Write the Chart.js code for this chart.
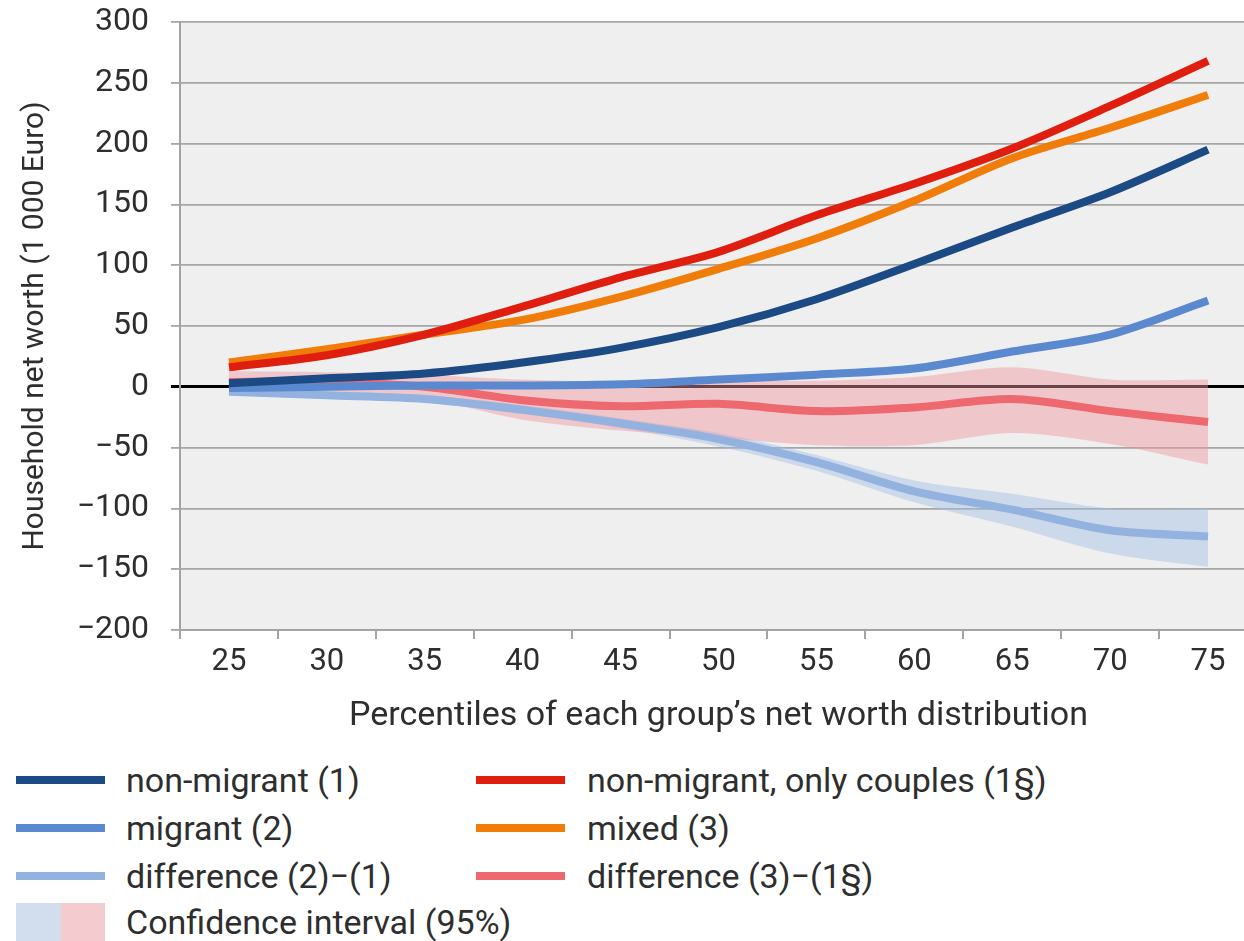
<!DOCTYPE html>
<html>
<head>
<meta charset="utf-8">
<script src="https://cdn.jsdelivr.net/npm/chart.js@4/dist/chart.umd.min.js"></script>
<style>
  body { margin: 0; background: #fff; overflow: hidden; width: 1244px; height: 941px; position: relative;
         font-family: Roboto, sans-serif; color: #2e2e2e; }
  #wrap { position: absolute; left: 0; top: 0; width: 1262px; height: 745px; }
  .item { position: absolute; height: 40px; display: flex; align-items: center; font-size: 34px; white-space: nowrap; }
  .swatch { position: absolute; height: 8px; }
  .ci { position: absolute; top: 903px; height: 38px; width: 45px; }
</style>
</head>
<body>
<div id="wrap"><canvas id="chart"></canvas></div>
<div id="legend"></div>
<script>
const percentiles = ['25', '30', '35', '40', '45', '50', '55', '60', '65', '70', '75'];

const nonMigrant   = [3, 7, 11, 20, 32, 49, 72, 101, 131, 160, 195];
const migrant      = [-1, 0, 1, 1, 2, 6, 10, 15, 29, 43, 71];
const diffMigrant  = [-4, -7, -10, -19, -30, -43, -62, -86, -101, -118, -123];
const couples      = [16, 26, 43, 66, 90, 111, 141, 167, 196, 231, 268];
const mixed        = [20, 31, 43, 55, 74, 97, 122, 153, 188, 213, 240];
const diffMixed    = [4, 4, 0, -11, -16, -14, -20, -17, -10, -20, -29];

const ciMigrantLow  = [-6, -9, -13, -22, -34, -49, -69, -95, -115, -137, -148];
const ciMigrantHigh = [-2, -5, -7, -15, -26, -38, -56, -77, -88, -100, -100];
const ciMixedLow    = [-4, -5, -10, -27, -36, -42, -48, -48, -38, -47, -64];
const ciMixedHigh   = [13, 12, 10, 6, 4, 5, 5, 8, 16, 6, 6];

const yTicks = [-200, -150, -100, -50, 0, 50, 100, 150, 200, 250, 300];

const NAVY = '#1b4a85', MID = '#5b89cf', LIGHT = '#93b2df';
const RED = '#e01e10', ORANGE = '#f07d0a', PINK = '#ee6870';
const CI_BLUE = 'rgba(160,190,230,0.45)', CI_PINK = 'rgba(240,150,160,0.45)';

const txt = '#2e2e2e';
const font = (size) => ({ family: 'Roboto', size: size });

function line(label, data, color) {
  return { label, data, borderColor: color, backgroundColor: color, borderWidth: 8,
           pointRadius: 0, tension: 0.3, fill: false };
}
function band(label, data, color, fill) {
  return { label, data, borderWidth: 0, borderColor: 'transparent', backgroundColor: color,
           pointRadius: 0, tension: 0.3, fill: fill };
}

// grey plot background behind grid and lines
const plotBg = {
  id: 'plotBg',
  beforeDraw(chart) {
    const { ctx, chartArea: a } = chart;
    ctx.save();
    ctx.fillStyle = '#efefef';
    ctx.fillRect(a.left, a.top, a.right - a.left, a.bottom - a.top);
    ctx.restore();
  }
};

new Chart(document.getElementById('chart'), {
  type: 'line',
  data: {
    labels: percentiles,
    datasets: [
      line('non-migrant, only couples (1§)', couples, RED),
      line('mixed (3)', mixed, ORANGE),
      line('non-migrant (1)', nonMigrant, NAVY),
      line('migrant (2)', migrant, MID),
      line('difference (2)\u2212(1)', diffMigrant, LIGHT),
      line('difference (3)\u2212(1§)', diffMixed, PINK),
      band('ci mixed low', ciMixedLow, CI_PINK, false),
      band('ci mixed high', ciMixedHigh, CI_PINK, '-1'),
      band('ci migrant low', ciMigrantLow, CI_BLUE, false),
      band('ci migrant high', ciMigrantHigh, CI_BLUE, '-1')
    ]
  },
  options: {
    responsive: true,
    maintainAspectRatio: false,
    animation: false,
    layout: { padding: { top: 22, right: 5, bottom: 0, left: 0 } },
    plugins: { legend: { display: false }, tooltip: { enabled: false } },
    scales: {
      x: {
        offset: true,
        grid: { offset: true, drawOnChartArea: false, drawTicks: true, tickLength: 9, color: '#a3a3a3', lineWidth: 2 },
        border: { display: true, color: '#a3a3a3', width: 2 },
        ticks: { font: font(31), color: txt, padding: 5, maxRotation: 0 },
        title: { display: true, text: 'Percentiles of each group\u2019s net worth distribution',
                 font: font(34), color: txt, padding: { top: 0, bottom: 8 } },
        afterFit(s) { s.height = 115; s.paddingLeft = 0; s.paddingRight = 0; }
      },
      y: {
        min: -200, max: 300,
        afterBuildTicks(s) { s.ticks = yTicks.map(v => ({ value: v })); },
        grid: {
          drawTicks: true, tickLength: 9,
          color: c => (c.tick && c.tick.value === 0 ? '#000' : '#a6a6a6'),
          lineWidth: c => (c.tick && c.tick.value === 0 ? 3 : 1.8)
        },
        border: { display: true, color: '#a3a3a3', width: 2 },
        ticks: { font: font(32), color: txt, padding: 22,
                 callback: v => (v < 0 ? '\u2212' + Math.abs(v) : String(v)) },
        title: { display: true, text: 'Household net worth (1 000 Euro)',
                 font: font(30), color: txt, padding: { top: 17, bottom: 0 } },
        afterFit(s) { s.width = 180; s.paddingTop = 0; s.paddingBottom = 0; }
      }
    }
  },
  plugins: [plotBg]
});

// legend below the chart: two columns of line keys plus the confidence band key
const legendItems = [
  { label: 'non-migrant (1)', color: NAVY },
  { label: 'non-migrant, only couples (1§)', color: RED },
  { label: 'migrant (2)', color: MID },
  { label: 'mixed (3)', color: ORANGE },
  { label: 'difference (2)\u2212(1)', color: LIGHT },
  { label: 'difference (3)\u2212(1§)', color: PINK }
];
const rowY = [780, 828, 876];
const colX = [{ sw: 16, w: 89, tx: 126 }, { sw: 476, w: 89, tx: 587 }];
const legend = document.getElementById('legend');
legendItems.forEach((it, i) => {
  const c = colX[i % 2], y = rowY[Math.floor(i / 2)];
  const sw = document.createElement('div');
  sw.className = 'swatch';
  Object.assign(sw.style, { left: c.sw + 'px', width: c.w + 'px', top: (y - 4) + 'px', background: it.color });
  legend.appendChild(sw);
  const t = document.createElement('div');
  t.className = 'item';
  Object.assign(t.style, { left: c.tx + 'px', top: (y - 20) + 'px' });
  t.textContent = it.label;
  legend.appendChild(t);
});
const ciA = document.createElement('div');
ciA.className = 'ci'; ciA.style.left = '16px'; ciA.style.background = '#d2ddee';
const ciB = document.createElement('div');
ciB.className = 'ci'; ciB.style.left = '61px'; ciB.style.width = '44px'; ciB.style.background = '#f4cbcf';
const ciT = document.createElement('div');
ciT.className = 'item'; ciT.style.left = '126px'; ciT.style.top = '902px';
ciT.textContent = 'Confidence interval (95%)';
legend.append(ciA, ciB, ciT);
</script>
</body>
</html>
